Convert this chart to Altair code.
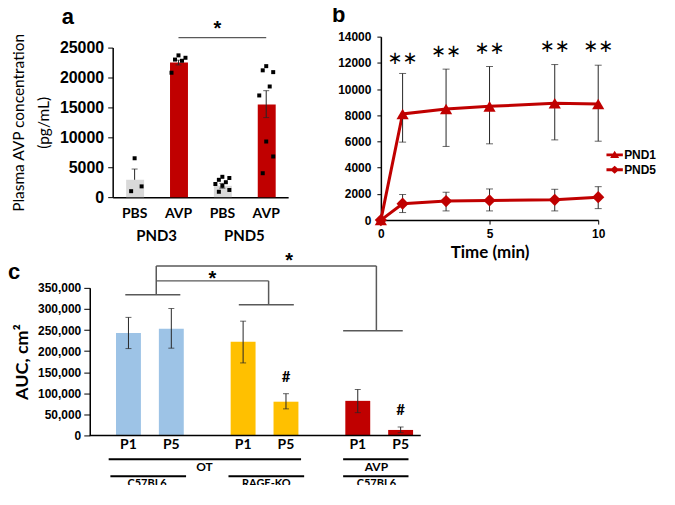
import altair as alt
import pandas as pd

RED = "#C00000"
GREY = "#D9D9D9"
BLUE = "#9DC3E6"
GOLD = "#FFC000"
ERR = "#262626"
BRK = "#595959"
ARIAL = "Liberation Sans"
LATO = "Lato"

# ---------------- panel a data ----------------
a_cats = ["PND3 PBS", "PND3 AVP", "PND5 PBS", "PND5 AVP"]
a_groups = ["PND3", "PND3", "PND5", "PND5"]
a_treat = ["PBS", "AVP", "PBS", "AVP"]
a_mean = [2900, 22500, 1900, 15500]
a_lo = [2900, 22100, 1500, 13300]
a_hi = [4700, 22900, 2300, 17800]
a_pnd3_pbs = [6500, 1800, 1000]
a_pnd3_avp = [23700, 23300, 23000, 22800, 20800]
a_pnd5_pbs = [3400, 3200, 2900, 2500, 2200, 1900, 1200, 900]
a_pnd5_avp = [21900, 20900, 21200, 18500, 17000, 9300, 6800, 4000]
a_group_labels = ["PND3", "PND5"]
a_ticks = [0, 5000, 10000, 15000, 20000, 25000]

# ---------------- panel b data ----------------
b_time = [0, 1, 3, 5, 8, 10]
b_pnd1_mean = [0, 8100, 8480, 8680, 8910, 8860]
b_pnd1_lo = [0, 5950, 5620, 5820, 6120, 6020]
b_pnd1_hi = [0, 11190, 11520, 11720, 11870, 11820]
b_pnd5_mean = [0, 1250, 1450, 1500, 1550, 1750]
b_pnd5_lo = [0, 575, 700, 700, 700, 875]
b_pnd5_hi = [0, 1950, 2125, 2375, 2350, 2550]
b_star_time = [1, 3, 5, 8, 10]
b_star_y = [12330, 12860, 13040, 13240, 13240]
b_yticks = [0, 2000, 4000, 6000, 8000, 10000, 12000, 14000]
b_xticks = [0, 5, 10]

# ---------------- panel c data ----------------
c_groups = ["OT C57BL6", "OT RAGE-KO", "AVP C57BL6"]
c_grp = ["OT C57BL6", "OT C57BL6", "OT RAGE-KO", "OT RAGE-KO", "AVP C57BL6", "AVP C57BL6"]
c_p = ["P1", "P5", "P1", "P5", "P1", "P5"]
c_mean = [243000, 253000, 222000, 80000, 82000, 13000]
c_lo = [206000, 207000, 172000, 63000, 54000, 6500]
c_hi = [280000, 301000, 271000, 99000, 109000, 20000]
c_hash = [False, False, False, True, False, True]
c_ticks = [0, 50000, 100000, 150000, 200000, 250000, 300000, 350000]

# ================= panel a =================
df_a = pd.DataFrame({"cat": a_cats, "grp": a_groups, "treat": a_treat,
                     "mean": a_mean, "lo": a_lo, "hi": a_hi})
pts = []
for c, vals in zip(a_cats, [a_pnd3_pbs, a_pnd3_avp, a_pnd5_pbs, a_pnd5_avp]):
    for v in vals:
        pts.append({"cat": c, "v": v})
df_pts = pd.DataFrame(pts)
df_alab = pd.DataFrame({"cat": ["PND3 PBS", "PND5 PBS"], "lab": a_group_labels})

xa = alt.Scale(domain=a_cats, paddingInner=0.614, paddingOuter=0.307)
ya = alt.Scale(domain=[0, 25000], nice=False)

a_bars = alt.Chart(df_a).mark_bar().encode(
    x=alt.X("cat:N", scale=xa, axis=alt.Axis(
        title=None, labelExpr="split(datum.label, ' ')[1]", ticks=False, labelAngle=0,
        labelFont=LATO, labelFontSize=14, labelFontWeight="bold", labelPadding=9,
        domainWidth=1.5)),
    y=alt.Y("mean:Q", scale=ya, axis=alt.Axis(
        title=["Plasma AVP concentration", "(pg/mL)"], values=a_ticks, tickCount=20,
        format="d", labelOverlap=False,
        labelFont=ARIAL, labelFontSize=16, labelFontWeight="bold", tickSize=5, labelPadding=4,
        titleFont=LATO, titleFontSize=15.5, titleFontWeight="normal", titleLineHeight=25,
        titlePadding=8, domainWidth=1.5)),
    color=alt.Color("treat:N", scale=alt.Scale(domain=["PBS", "AVP"], range=[GREY, RED]), legend=None),
)
a_err = alt.Chart(df_a).mark_rule(color=ERR, strokeWidth=1).encode(
    x="cat:N", y="lo:Q", y2="hi:Q")
a_cap_hi = alt.Chart(df_a).mark_tick(color=ERR, size=6, thickness=1).encode(x="cat:N", y="hi:Q")
a_cap_lo = alt.Chart(df_a).transform_filter("datum.lo < datum.mean").mark_tick(
    color=ERR, size=6, thickness=1).encode(x="cat:N", y="lo:Q")
a_pts = alt.Chart(df_pts).transform_window(
    k="row_number()", groupby=["cat"]
).transform_calculate(
    jit="((datum.k * 7) % 5) - 2"
).mark_square(size=16, color="black", opacity=1).encode(
    x="cat:N",
    xOffset=alt.XOffset("jit:Q", scale=alt.Scale(domain=[-2, 2], range=[1.5, 15.5])),
    y="v:Q",
)
a_glab = alt.Chart(df_alab).mark_text(
    font=LATO, fontSize=15, fontWeight="bold", dx=22, baseline="middle"
).encode(x="cat:N", y=alt.YDatum(-6500), text="lab:N")
df_asig = pd.DataFrame({"c1": ["PND3 AVP"], "c2": ["PND5 AVP"], "c3": ["PND5 PBS"],
                        "y": [26670], "ys": [27100]})
a_sig = alt.Chart(df_asig).mark_rule(color=BRK, strokeWidth=1.2).encode(
    x="c1:N", x2="c2", y="y:Q")
a_star = alt.Chart(df_asig).mark_text(
    text="*", font=ARIAL, fontSize=20, fontWeight="bold", baseline="alphabetic", align="center"
).encode(x=alt.X("c3:N", bandPosition=0.2), y="ys:Q")

panel_a = alt.layer(a_bars, a_err, a_cap_hi, a_cap_lo, a_pts, a_glab, a_sig, a_star).properties(
    width=176, height=150,
    title=alt.Title("a", anchor="start", frame="group", dx=-51, offset=-10,
                    fontSize=22, font=ARIAL, fontWeight="bold"),
)

# ================= panel b =================
rows = []
for s, m, lo, hi in [("PND1", b_pnd1_mean, b_pnd1_lo, b_pnd1_hi),
                     ("PND5", b_pnd5_mean, b_pnd5_lo, b_pnd5_hi)]:
    for t, mm, l, h in zip(b_time, m, lo, hi):
        rows.append({"t": t, "series": s, "mean": mm, "lo": l, "hi": h})
df_b = pd.DataFrame(rows)
df_bstar = pd.DataFrame({"t": b_star_time, "y": b_star_y})

xb = alt.Scale(domain=[0, 10], nice=False)
yb = alt.Scale(domain=[0, 14000], nice=False)

b_line = alt.Chart(df_b).mark_line(color=RED, strokeWidth=3).encode(
    x=alt.X("t:Q", scale=xb, axis=alt.Axis(
        title="Time (min)", values=b_xticks, tickCount=20, format="d", labelFont=ARIAL,
        labelFontSize=12, labelFontWeight="bold", tickSize=4, labelPadding=4, labelFlush=False,
        labelOverlap=False, titleFont=LATO, titleFontSize=17, titleFontWeight="bold",
        titlePadding=6, domainWidth=1.5)),
    y=alt.Y("mean:Q", scale=yb, axis=alt.Axis(
        title=None, values=b_yticks, tickCount=20, format="d", labelOverlap=False,
        labelFont=ARIAL, labelFontSize=12, labelFontWeight="bold", tickSize=4, labelPadding=6,
        domainWidth=1.5)),
    detail="series:N",
)
b_err = alt.Chart(df_b).transform_filter("datum.t > 0").mark_rule(color=ERR, strokeWidth=1).encode(
    x="t:Q", y="lo:Q", y2="hi:Q")
b_cap_hi = alt.Chart(df_b).transform_filter("datum.t > 0").mark_tick(
    color=ERR, orient="horizontal", size=7, thickness=1).encode(x="t:Q", y="hi:Q")
b_cap_lo = alt.Chart(df_b).transform_filter("datum.t > 0").mark_tick(
    color=ERR, orient="horizontal", size=7, thickness=1).encode(x="t:Q", y="lo:Q")
b_pts = alt.Chart(df_b).mark_point(filled=True, size=150, color=RED, opacity=1).encode(
    x="t:Q", y="mean:Q",
    shape=alt.Shape("series:N", scale=alt.Scale(domain=["PND1", "PND5"],
                                                range=["triangle-up", "diamond"]), legend=None),
)
TRI = "M-1,-0.17H1V0.17H-1ZM-0.55,0.4L0,-0.5L0.55,0.4Z"
DIA = "M-1,-0.17H1V0.17H-1ZM-0.55,0L0,-0.5L0.55,0L0,0.5Z"
b_leg = alt.Chart(df_b).transform_filter("false").mark_point(
    filled=True, color=RED, opacity=1
).encode(
    x="t:Q", y="mean:Q",
    shape=alt.Shape("series:N", scale=alt.Scale(domain=["PND1", "PND5"], range=[TRI, DIA]),
                    legend=alt.Legend(title=None, orient="none", legendX=226, legendY=110,
                                      symbolSize=270, rowPadding=-13, labelFont=ARIAL,
                                      labelFontSize=12, labelFontWeight="bold", labelOffset=1,
                                      symbolFillColor=RED, symbolStrokeWidth=0)),
)
b_stars = alt.Chart(df_bstar).mark_text(
    text="∗∗", font="DejaVu Sans", fontSize=18, baseline="middle"
).encode(x="t:Q", y="y:Q")

panel_b = alt.layer(b_line, b_err, b_cap_hi, b_cap_lo, b_pts, b_leg, b_stars).resolve_scale(
    shape="independent"
).properties(
    width=218, height=184,
    title=alt.Title("b", anchor="start", frame="group", dx=-49, offset=4,
                    fontSize=22, font=ARIAL, fontWeight="bold"),
)

# ================= panel c =================
df_c = pd.DataFrame({"grp": c_grp, "p": c_p, "mean": c_mean, "lo": c_lo, "hi": c_hi,
                     "hash": c_hash})
xc = alt.Scale(domain=c_groups, paddingInner=0, paddingOuter=0)
yc = alt.Scale(domain=[0, 350000], nice=False)
xo = alt.Scale(domain=["P1", "P5"], paddingInner=0.419, paddingOuter=0.547, align=0.56)

c_bars = alt.Chart(df_c).mark_bar().encode(
    x=alt.X("grp:N", scale=xc, axis=alt.Axis(title=None, labels=False, ticks=False, domain=False)),
    xOffset=alt.XOffset("p:N", scale=xo),
    y=alt.Y("mean:Q", scale=yc, axis=alt.Axis(
        title="AUC, cm²", values=c_ticks, tickCount=20, format=",d", labelOverlap=False,
        labelFont=ARIAL, labelFontSize=12, labelFontWeight="bold", tickSize=6, labelPadding=3,
        titleFont=LATO, titleFontSize=18, titleFontWeight="bold", titlePadding=6,
        domainWidth=1.5)),
    color=alt.Color("grp:N", scale=alt.Scale(domain=c_groups, range=[BLUE, GOLD, RED]), legend=None),
)
c_err = alt.Chart(df_c).mark_rule(color=ERR, strokeWidth=1).encode(
    x="grp:N", xOffset="p:N", y="lo:Q", y2="hi:Q")
c_cap_hi = alt.Chart(df_c).mark_tick(color=ERR, size=6, thickness=1).encode(
    x="grp:N", xOffset="p:N", y="hi:Q")
c_cap_lo = alt.Chart(df_c).mark_tick(color=ERR, size=6, thickness=1).encode(
    x="grp:N", xOffset="p:N", y="lo:Q")
c_plab = alt.Chart(df_c).mark_text(font=LATO, fontSize=14, fontWeight="bold", baseline="middle").encode(
    x="grp:N", xOffset="p:N", y=alt.YDatum(-23650), text="p:N")
c_hash_t = alt.Chart(df_c).transform_filter("datum.hash").transform_calculate(
    hy="datum.hi + 40000").mark_text(text="#", font=LATO, fontSize=15, fontWeight="bold",
                                     baseline="middle").encode(
    x="grp:N", xOffset="p:N", y="hy:Q")


def hseg(g1, b1, g2, b2, y, color=BRK, width=1.5):
    d = pd.DataFrame({"g1": [g1], "g2": [g2], "y": [y]})
    return alt.Chart(d).mark_rule(color=color, strokeWidth=width).encode(
        x=alt.X("g1:N", bandPosition=b1), x2=alt.X2("g2", bandPosition=b2), y="y:Q")


def vseg(g, b, y1, y2, color=BRK, width=1.5):
    d = pd.DataFrame({"g": [g], "y1": [y1], "y2": [y2]})
    return alt.Chart(d).mark_rule(color=color, strokeWidth=width).encode(
        x=alt.X("g:N", bandPosition=b), y="y1:Q", y2="y2:Q")


def label(g, b, y, txt, size=12, font=LATO, base="middle"):
    d = pd.DataFrame({"g": [g], "y": [y], "t": [txt]})
    return alt.Chart(d).mark_text(font=font, fontSize=size, fontWeight="bold", baseline=base).encode(
        x=alt.X("g:N", bandPosition=b), y="y:Q", text="t:N")


G0, G1, G2 = c_groups
c_layers = [
    c_bars, c_err, c_cap_hi, c_cap_lo, c_plab, c_hash_t,
    hseg(G0, 0, G2, 0.887, 0, color="black", width=1.5),
    # significance brackets
    hseg(G0, 0.31, G0, 0.79, 333500),
    hseg(G1, 0.30, G1, 0.78, 309800),
    hseg(G2, 0.21, G2, 0.73, 248300),
    vseg(G0, 0.58, 333500, 402000),
    vseg(G1, 0.56, 309800, 366600),
    vseg(G2, 0.50, 248300, 402000),
    hseg(G0, 0.58, G1, 0.56, 366600),
    hseg(G0, 0.58, G2, 0.50, 402000),
    label(G1, 0.07, 357000, "*", size=20, font=ARIAL, base="alphabetic"),
    label(G1, 0.74, 399500, "*", size=20, font=ARIAL, base="alphabetic"),
    # group annotations under the axis
    hseg(G0, 0.165, G1, 0.843, -56760, color="black", width=2),
    hseg(G2, 0.21, G2, 0.78, -56760, color="black", width=2),
    hseg(G0, 0.18, G0, 0.84, -96965, color="black", width=2),
    hseg(G1, 0.21, G1, 0.87, -96965, color="black", width=2),
    hseg(G2, 0.21, G2, 0.78, -96965, color="black", width=2),
    label(G1, 0.0, -75680, "OT", size=12),
    label(G2, 0.50, -75680, "AVP", size=12),
    label(G0, 0.50, -115885, "C57BL6", size=11),
    label(G1, 0.54, -115885, "RAGE-KO", size=11),
    label(G2, 0.50, -115885, "C57BL6", size=11),
]
panel_c = alt.layer(*c_layers).properties(
    width=345, height=148,
    title=alt.Title("c", anchor="start", frame="group", dx=-82, offset=-33,
                    fontSize=22, font=ARIAL, fontWeight="bold"),
)


def spacer():
    # empty 1x1 view used only to shift panels inside the concat grid
    return alt.Chart(pd.DataFrame({"v": [0]})).mark_point(size=0, opacity=0).encode(
        x=alt.X("v:Q", axis=None), y=alt.Y("v:Q", axis=None)
    ).properties(width=1, height=1)


col_a = alt.vconcat(spacer(), panel_a, spacing=-32)
row1 = alt.hconcat(col_a, panel_b, spacing=44)
top = alt.hconcat(spacer(), row1, spacing=-80)

chart = alt.vconcat(top, panel_c, spacing=-10).resolve_scale(color="independent").properties(
    padding={"left": 0, "top": -5, "right": 10, "bottom": -6},
).configure_view(stroke=None).configure_axis(
    grid=False, domainColor="black", tickColor="black", labelColor="black", titleColor="black"
)

chart.save("out.html", embed_options={"renderer": "svg", "actions": False})
